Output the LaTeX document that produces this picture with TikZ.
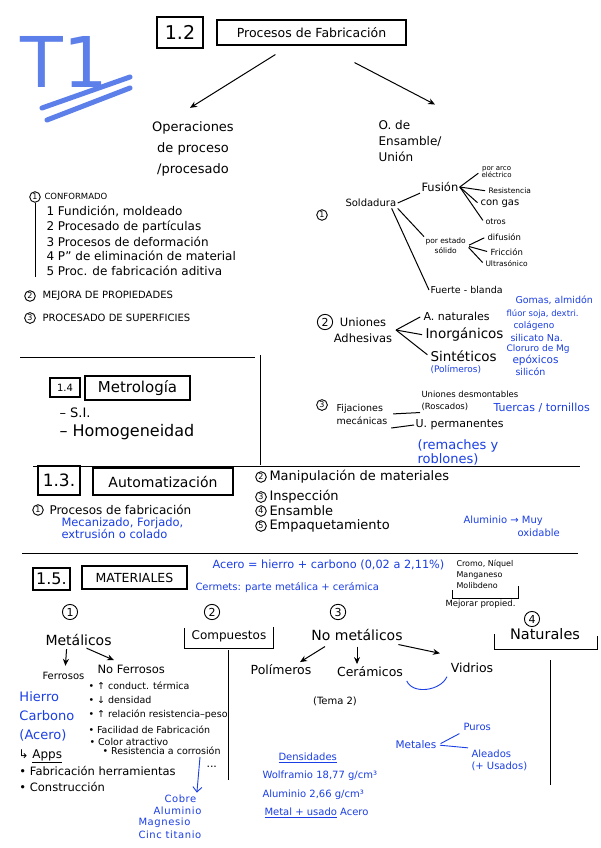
\documentclass[tikz,border=0pt]{standalone}
\usepackage{fontspec}
\setmainfont{DejaVu Sans}
\usetikzlibrary{arrows.meta,positioning,calc}
\definecolor{inkblue}{HTML}{1B3FE4}
\definecolor{tblue}{HTML}{5C7FEA}
\newcommand{\fsz}[2]{\fontsize{#1}{#2}\selectfont}

\begin{document}
\begin{tikzpicture}[x=1pt, y=-1pt, line width=1pt,
  txt/.style={anchor=west, inner sep=1pt},
  bl/.style={txt, text=inkblue},
  num/.style={circle, draw, line width=0.9pt, inner sep=1pt, font=\fsz{8}{8}},
  bignum/.style={num, inner sep=1.6pt, font=\fsz{11}{11}},
  hbox/.style={draw, line width=1.1pt, inner sep=0pt},
  arr/.style={-{Stealth[length=7pt,width=6pt]}},
  bbar/.style={inkblue, line width=0.9pt}]
\fill[white] (0,0) rectangle (600,848);
\useasboundingbox (0,0) rectangle (600,848);

% title T1
\node[text=tblue, font=\fsz{70}{70}] (tone) at (64,62) {T1};
\draw[tblue, line width=5pt, line cap=round] (42,108) -- (130,77);
\draw[tblue, line width=5pt, line cap=round] (47,120) -- (130,88);

% 1.2 procesos de fabricacion
\node[hbox, minimum width=46, minimum height=31, font=\fsz{19}{19}] (n12) at (180,32.5) {1.2};
\node[hbox, minimum width=189, minimum height=25, font=\fsz{12.5}{12.5}] (t12) at (311.5,32.5) {Procesos de Fabricación};
\node[align=center, font=\fsz{13}{21}] (oper) at (193,149) {Operaciones\\de proceso\\/procesado};
\node[align=left, font=\fsz{12}{16}] (ens) at (410,141) {O. de\\Ensamble/\\Unión};
\draw[arr] ($(t12.south west)!0.31!(t12.south east)+(0,9)$) -- ($(oper.north)+(-3,-10)$);
\draw[arr] ($(t12.south)+(43,17)$) -- ($(ens.north)+(25,-12)$);

% operaciones de proceso
\node[num] (o1) at (35,197) {1};
\node[txt, font=\fsz{8.5}{8.5}] (conf) at (43,196) {CONFORMADO};
\foreach \t [count=\k] in {{1 Fundición, moldeado}, 2 Procesado de partículas, 3 Procesos de deformación, 4 P'' de eliminación de material, 5 Proc. de fabricación aditiva}
  \node[txt, font=\fsz{12}{12}] (ls\k) at (45,{197+\k*14.8}) {\t};
\draw (o1.south) -- (o1.south |- ls5.south);
\node[num] (o2) at (30,296) {2};
\node[txt, font=\fsz{10}{10}] (mej) at (41,296) {MEJORA DE PROPIEDADES};
\node[num] (o3) at (30,318) {3};
\node[txt, font=\fsz{10}{10}] (sup) at (41,318) {PROCESADO DE SUPERFICIES};

% soldadura
\node[num] (u1) at (322,215) {1};
\node[txt, font=\fsz{10}{10}] (sold) at (344,203) {Soldadura};
\node[txt, font=\fsz{11.5}{11.5}] (fus) at (420,187) {Fusión};
\node[txt, align=center, font=\fsz{7}{7.5}] (arco) at (480,172) {por arco\\eléctrico};
\node[txt, font=\fsz{7.5}{7.5}] (res) at (487,191) {Resistencia};
\node[txt, font=\fsz{10}{10}] (gas) at (479,204) {con gas};
\node[txt, font=\fsz{8}{8}] (otr) at (484,222) {otros};
\node[txt, align=center, font=\fsz{7.5}{10}] (pes) at (424,246) {por estado\\sólido};
\node[txt, font=\fsz{8.5}{8.5}] (dif) at (486,237) {difusión};
\node[txt, font=\fsz{8.5}{8.5}] (fri) at (489,252) {Fricción};
\node[txt, font=\fsz{7.5}{7.5}] (ult) at (484,264) {Ultrasónico};
\node[txt, font=\fsz{9.5}{9.5}] (fyb) at (429,290) {Fuerte - blanda};
\draw (sold.east) -- (fus.south west);
\draw (sold.south east) -- (pes.north west);
\draw ([xshift=-6pt]sold.south east) -- (fyb.west);
\foreach \b in {arco,res,gas,otr} \draw[shorten >=2pt] (fus.east) -- (\b.west);
\foreach \b in {dif,fri,ult} \draw[shorten >=2pt, shorten <=2pt] (pes.east) -- (\b.west);

% uniones adhesivas
\node[bignum] (u2) at (325,322) {2};
\node[align=center, font=\fsz{11.5}{16}] (adh) at (363,330) {Uniones\\Adhesivas};
\node[txt, font=\fsz{11}{11}] (nat) at (422,316) {A. naturales};
\node[txt, font=\fsz{13.5}{13.5}] (ino) at (424,335) {Inorgánicos};
\node[txt, font=\fsz{13.5}{13.5}] (sin) at (429,356) {Sintéticos};
\node[bl, font=\fsz{9}{9}] (pol) at (429,369) {(Polímeros)};
\foreach \b in {nat,ino,sin} \draw[shorten >=2pt] (adh.east) -- (\b.west);
\foreach \t/\x/\y/\s [count=\k] in {{Gomas, almidón}/514/300/9.5, {flúor soja, dextri.}/505/314/8.5, colágeno/512/326/9, silicato Na./509/338/9.5, Cloruro de Mg/505/349/9, epóxicos/511/360/10.5, silicón/514/372/9.5}
  \node[bl, font=\fsz{\s}{\s}] (ad\k) at (\x,\y) {\t};

% fijaciones mecanicas
\node[num] (u3) at (322,405) {3};
\node[align=left, font=\fsz{9.5}{13}] (fij) at (362,414) {Fijaciones\\mecánicas};
\node[txt, align=left, font=\fsz{8.5}{12.5}] (desm) at (420,401) {Uniones desmontables\\(Roscados)};
\node[bl, font=\fsz{11}{11}] (tue) at (492,408) {Tuercas / tornillos};
\node[txt, font=\fsz{11}{11}] (perm) at (414,425) {U. permanentes};
\node[bl, align=left, font=\fsz{13}{14}] (rem) at (416,452) {(remaches y\\roblones)};
\draw[shorten <=2pt] (fij.east) -- (desm.south west);
\draw (fij.south east) -- (perm.west);

% separadores
\draw (20,357) -- (255,357);
\draw (260,355) -- (260,465);
\draw (33,466) -- (580,466);
\draw (22,553) -- (578,553);

% 1.4 metrologia
\node[hbox, line width=1.6pt, minimum width=30, minimum height=19, font=\fsz{10}{10}] (n14) at (65,387.5) {1.4};
\node[hbox, minimum width=105, minimum height=24, font=\fsz{15}{15}] (t14) at (137.5,388) {Metrología};
\node[txt, font=\fsz{13}{13}] (si) at (58,413) {– S.I.};
\node[txt, font=\fsz{16}{16}] (hom) at (58,432) {– Homogeneidad};

% 1.3 automatizacion
\node[hbox, minimum width=42, minimum height=29, font=\fsz{17}{17}] (n13) at (59,480.5) {1.3.};
\node[hbox, minimum width=140, minimum height=27, font=\fsz{14}{14}] (t13) at (163,481.5) {Automatización};
\node[num] (a1) at (38,510) {1};
\node[txt, font=\fsz{12}{12}] (pfab) at (48,510) {Procesos de fabricación};
\node[bl, align=left, font=\fsz{11.5}{12}] (mec) at (60,528) {Mecanizado, Forjado,\\extrusión o colado};
\foreach \t/\y [count=\k from 2] in {Manipulación de materiales/477, Inspección/497, Ensamble/511, Empaquetamiento/526}{
  \node[num] (a\k) at (261,\y) {\k};
  \node[txt, font=\fsz{13}{13}] (at\k) at (268,\y) {\t};}
\node[bl, font=\fsz{10}{10}] (alu) at (462,521) {Aluminio → Muy};
\node[bl, font=\fsz{10}{10}] (oxi) at (516,533) {oxidable};

% 1.5 materiales
\node[hbox, minimum width=37, minimum height=22, font=\fsz{16}{16}] (n15) at (51.5,579) {1.5.};
\node[hbox, minimum width=105, minimum height=23, font=\fsz{12.5}{12.5}] (t15) at (134.5,577.5) {MATERIALES};
\node[bl, font=\fsz{11.3}{11.3}] (acero) at (211,565) {Acero = hierro + carbono (0,02 a 2,11\%)};
\node[bl, font=\fsz{10}{10}] (cerm) at (194,588) {Cermets: parte metálica + cerámica};
\node[txt, align=left, font=\fsz{8}{11}] (crom) at (455,574) {Cromo, Níquel\\Manganeso\\Molibdeno};
\draw (452,590) -- (452,598) -- (518,598) -- (518,586);
\node[txt, font=\fsz{8.5}{8.5}] (mejp) at (444,604) {Mejorar propied.};

% metalicos
\node[bignum] (m1) at (70,612) {1};
\node[txt, font=\fsz{14}{14}] (met) at (44,640) {Metálicos};
\node[txt, font=\fsz{10}{10}] (fer) at (41,676) {Ferrosos};
\node[txt, font=\fsz{11.5}{11.5}] (nfer) at (96,669) {No Ferrosos};
\draw[arr] ($(met.south)+(-12,2)$) -- ($(fer.north)+(2,-5)$);
\draw[arr] ($(met.south)+(8,1)$) -- ($(nfer.north west)+(18,-3)$);
\foreach \t/\y [count=\k] in {Hierro/697, Carbono/716, (Acero)/735}
  \node[bl, font=\fsz{13}{13}] (fe\k) at (18,\y) {\t};
\node[txt, font=\fsz{12}{12}] (apps) at (17,756) {↳ \underline{Apps}};
\node[txt, font=\fsz{11.5}{11.5}] (fab) at (18,771) {• Fabricación herramientas};
\node[txt, font=\fsz{11.5}{11.5}] (con) at (18,787) {• Construcción};
\foreach \t/\x/\y [count=\k] in {• ↑ conduct. térmica/87/686, • ↓ densidad/87/700, • ↑ relación resistencia–peso/87/715, • Facilidad de Fabricación/87/730, • Color atractivo/88/742, • Resistencia a corrosión/101/751}
  \node[txt, font=\fsz{9.5}{9.5}] (nf\k) at (\x,\y) {\t};
\node[txt, font=\fsz{11}{11}] (dots) at (205,767) {...};
\foreach \t/\x/\y [count=\k] in {Cobre/164/799, Aluminio/153/811, Magnesio/138/823, Cinc titanio/138/835}
  \node[bl, inner sep=0pt, font=\fsz{10}{10}] (nfm\k) at (\x,\y) {\addfontfeature{LetterSpace=6}\t};
\coordinate (dn) at (200,757);
\draw[bbar, -{Straight Barb[length=5pt,width=9pt]}] (dn) -- ([shift={(0,-2)}]nfm1.north east);

% compuestos
\node[bignum] (m2) at (212,612) {2};
\node[font=\fsz{12}{12}] (comp) at (229,636) {Compuestos};
\draw (184,628) |- (273,648) -- (273,627);
\draw (228,650) -- (228,780);

% no metalicos
\node[bignum] (m3) at (338,612) {3};
\node[font=\fsz{14}{14}] (nmet) at (357,635) {No metálicos};
\node[font=\fsz{12.5}{12.5}] (poli) at (281,670) {Polímeros};
\node[font=\fsz{12.5}{12.5}] (cera) at (370,672) {Cerámicos};
\node[font=\fsz{12.5}{12.5}] (vid) at (472,668) {Vidrios};
\draw[arr] ($(nmet.south)+(-32,2)$) -- ($(poli.north)+(19,1)$);
\draw[arr] ($(nmet.south)+(0,2)$) -- ($(cera.north)+(-13,1)$);
\draw[arr] ($(nmet.south east)+(-8,0)$) -- ($(vid.north west)+(-7,-6)$);
\draw[bbar] (cera.south east) .. controls +(6,14) and +(-6,14) .. (vid.south west);
\node[font=\fsz{10}{10}] (tema) at (335,701) {(Tema 2)};

% naturales
\node[bignum] (m4) at (532,619) {4};
\node[font=\fsz{14.5}{14.5}] (natu) at (545,634) {Naturales};
\draw (494,634) |- (597,649) -- (597,636);
\draw (550,660) -- (550,785);

% metales y densidades
\node[bl, font=\fsz{10.5}{10.5}] (mets) at (394,745) {Metales};
\node[bl, font=\fsz{10}{10}] (pur) at (462,727) {Puros};
\node[bl, align=left, font=\fsz{10}{12}] (ale) at (470,760) {Aleados\\(+ Usados)};
\draw[bbar, shorten <=3pt, shorten >=3pt] (mets.east) -- (pur.south west);
\draw[bbar, shorten <=2pt, shorten >=2pt] (mets.east) -- (ale.north west);
\node[bl, font=\fsz{10}{10}] (den) at (277,758) {\underline{Densidades}};
\node[bl, font=\fsz{10}{10}] (wol) at (261,776) {Wolframio 18,77 g/cm³};
\node[bl, font=\fsz{10}{10}] (alum) at (261,795) {Aluminio 2,66 g/cm³};
\node[bl, font=\fsz{10}{10}] (mus) at (263,813) {\underline{Metal + usado} Acero};
\end{tikzpicture}
\end{document}
